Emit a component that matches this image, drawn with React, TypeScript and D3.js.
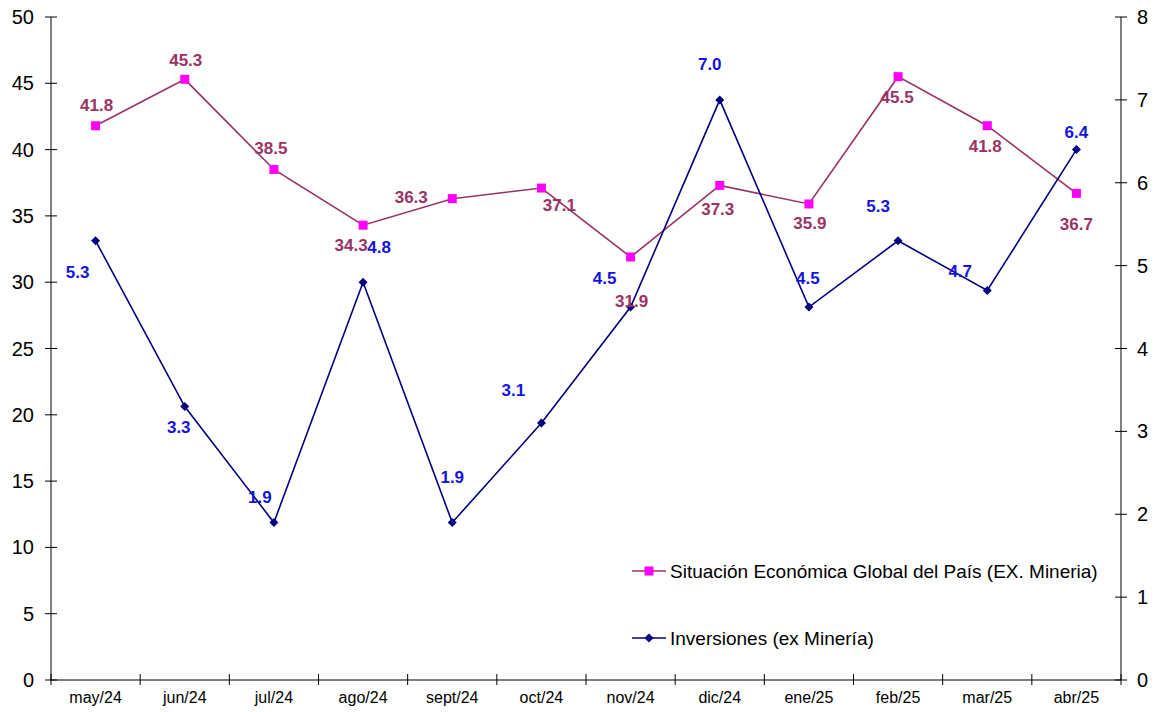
import React from "react";
import * as d3 from "d3";

const categories = ["may/24", "jun/24", "jul/24", "ago/24", "sept/24", "oct/24", "nov/24", "dic/24", "ene/25", "feb/25", "mar/25", "abr/25"];
const situacion = [41.8, 45.3, 38.5, 34.3, 36.3, 37.1, 31.9, 37.3, 35.9, 45.5, 41.8, 36.7];
const inversiones = [5.3, 3.3, 1.9, 4.8, 1.9, 3.1, 4.5, 7.0, 4.5, 5.3, 4.7, 6.4];
const leftTicks = [0, 5, 10, 15, 20, 25, 30, 35, 40, 45, 50];
const rightTicks = [0, 1, 2, 3, 4, 5, 6, 7, 8];
const seriesNames = ["Situación Económica Global del País (EX. Mineria)", "Inversiones (ex Minería)"];

// label offsets (dx, dy) relative to the point
const sitOffsets: [number, number][] = [
  [1, -20], [1, -19], [-3, -21], [-12, 20], [-41, -1], [18, 17], [1, 44], [-2, 24], [1, 20], [-1, 21], [-2, 21], [0, 31],
];
const invOffsets: [number, number][] = [
  [-18, 32], [-6, 21], [-14, -25], [16, -35], [0, -45], [-28, -33], [-26, -29], [-10, -35], [-1, -29], [-20, -34], [-27, -19], [0, -17],
];

const W = 1157;
const H = 712;
const left = 51;
const right = 1121;
const top = 17;
const bottom = 680;

const FONT = "'Liberation Sans', Arial, sans-serif";
const SIT_LINE = "#993366";
const SIT_MARK = "#ff00ff";
const INV_LINE = "#000080";
const INV_LABEL = "#1414e0";

export default function App() {
  const x = d3.scaleBand<string>().domain(categories).range([left, right]);
  const yL = d3.scaleLinear().domain([0, 50]).range([bottom, top]);
  const yR = d3.scaleLinear().domain([0, 8]).range([bottom, top]);
  const cx = (i: number) => (x(categories[i]) as number) + x.bandwidth() / 2;

  const sitLine = d3.line<number>().x((_, i) => cx(i)).y((d) => yL(d));
  const invLine = d3.line<number>().x((_, i) => cx(i)).y((d) => yR(d));

  const diamond = (px: number, py: number, r: number) =>
    `M${px},${py - r}L${px + r},${py}L${px},${py + r}L${px - r},${py}Z`;

  return (
    <svg width={W} height={H} style={{ position: "absolute", left: 0, top: 0, background: "#fff" }}>
      {/* left axis */}
      <line x1={left} x2={left} y1={top} y2={bottom} stroke="#000" strokeWidth={1} />
      {leftTicks.map((t) => (
        <g key={"l" + t}>
          <line x1={left - 6} x2={left + 6} y1={yL(t)} y2={yL(t)} stroke="#000" />
          <text x={34} y={yL(t)} textAnchor="end" dominantBaseline="central" fontFamily={FONT} fontSize={20} fill="#000">
            {t}
          </text>
        </g>
      ))}
      {/* right axis */}
      <line x1={right} x2={right} y1={top} y2={bottom} stroke="#000" strokeWidth={1} />
      {rightTicks.map((t) => (
        <g key={"r" + t}>
          <line x1={right - 6} x2={right + 6} y1={yR(t)} y2={yR(t)} stroke="#000" />
          <text x={1137} y={yR(t)} textAnchor="start" dominantBaseline="central" fontFamily={FONT} fontSize={20} fill="#000">
            {t}
          </text>
        </g>
      ))}
      {/* bottom axis */}
      <line x1={left} x2={right} y1={bottom} y2={bottom} stroke="#000" />
      {categories.map((c, i) => (
        <g key={c}>
          <line x1={x(c) as number} x2={x(c) as number} y1={bottom - 6} y2={bottom + 5} stroke="#000" />
          <text x={cx(i)} y={697} textAnchor="middle" dominantBaseline="central" fontFamily={FONT} fontSize={16} fill="#000">
            {c}
          </text>
        </g>
      ))}
      <line x1={right} x2={right} y1={bottom - 6} y2={bottom + 5} stroke="#000" />

      {/* Situación series */}
      <path d={sitLine(situacion) as string} fill="none" stroke={SIT_LINE} strokeWidth={1.6} />
      {situacion.map((v, i) => (
        <rect key={"sm" + i} x={cx(i) - 4.5} y={yL(v) - 4.5} width={9} height={9} fill={SIT_MARK} />
      ))}
      {/* Inversiones series */}
      <path d={invLine(inversiones) as string} fill="none" stroke={INV_LINE} strokeWidth={1.6} />
      {inversiones.map((v, i) => (
        <path key={"im" + i} d={diamond(cx(i), yR(v), 4.5)} fill={INV_LINE} />
      ))}

      {/* labels */}
      {situacion.map((v, i) => (
        <text
          key={"sl" + i}
          x={cx(i) + sitOffsets[i][0]}
          y={yL(v) + sitOffsets[i][1]}
          textAnchor="middle"
          dominantBaseline="central"
          fontFamily={FONT}
          fontSize={17}
          fontWeight="bold"
          fill={SIT_LINE}
        >
          {v.toFixed(1)}
        </text>
      ))}
      {inversiones.map((v, i) => (
        <text
          key={"il" + i}
          x={cx(i) + invOffsets[i][0]}
          y={yR(v) + invOffsets[i][1]}
          textAnchor="middle"
          dominantBaseline="central"
          fontFamily={FONT}
          fontSize={17}
          fontWeight="bold"
          fill={INV_LABEL}
        >
          {v.toFixed(1)}
        </text>
      ))}

      {/* legend */}
      <g>
        <line x1={632} x2={666} y1={571} y2={571} stroke={SIT_LINE} strokeWidth={1.6} />
        <rect x={644.5} y={566.5} width={9} height={9} fill={SIT_MARK} />
        <text x={670} y={571} dominantBaseline="central" fontFamily={FONT} fontSize={19} fill="#000">
          {seriesNames[0]}
        </text>
        <line x1={632} x2={666} y1={638} y2={638} stroke={INV_LINE} strokeWidth={1.6} />
        <path d={diamond(649, 638, 4.5)} fill={INV_LINE} />
        <text x={670} y={638} dominantBaseline="central" fontFamily={FONT} fontSize={19} fill="#000">
          {seriesNames[1]}
        </text>
      </g>
    </svg>
  );
}
